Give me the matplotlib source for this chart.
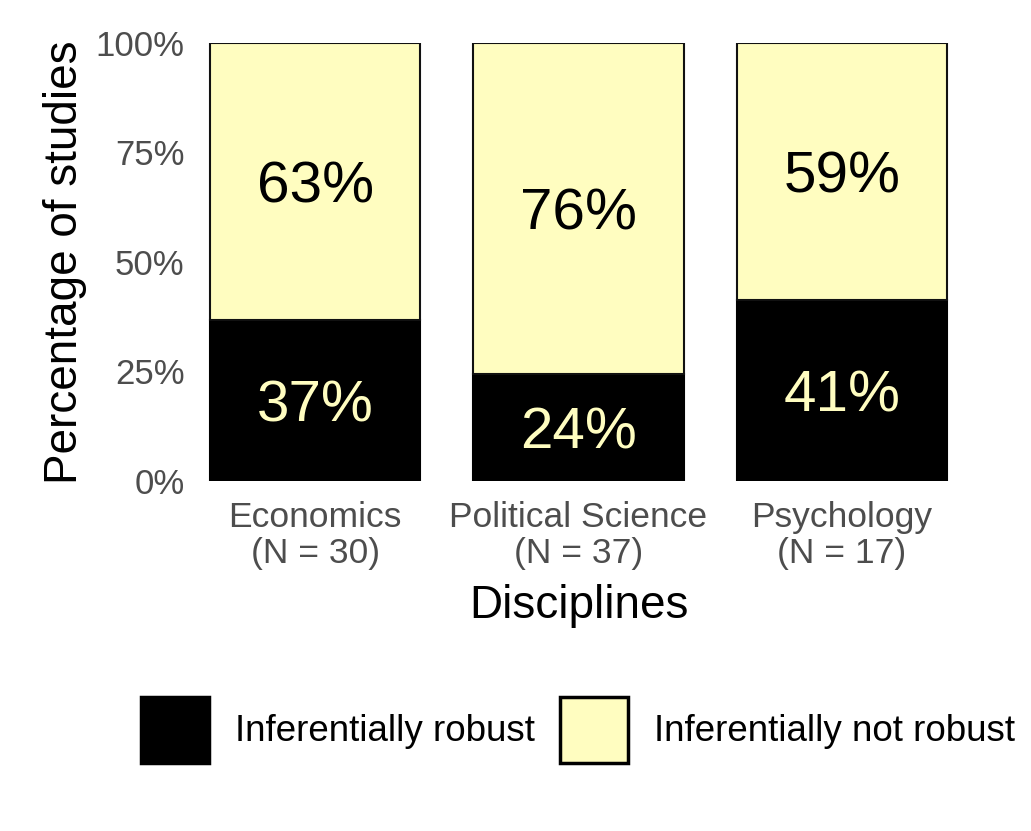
import matplotlib
matplotlib.use("Agg")
import matplotlib.pyplot as plt
import matplotlib.patches as mpatches

plt.rcParams['font.family'] = ['Liberation Sans', 'DejaVu Sans']

# Données
disciplines = ['Economics', 'Political Science', 'Psychology']
n_studies = [30, 37, 17]
n_robust = [11, 9, 7]
pct_robust = [100 * r / n for r, n in zip(n_robust, n_studies)]
pct_not_robust = [100 - p for p in pct_robust]
tick_labels = [f'{d}\n(N = {n})' for d, n in zip(disciplines, n_studies)]
y_ticks = [0, 25, 50, 75, 100]

col_robust = '#000000'
col_not = '#FFFDC0'

W, H = 1031, 831
fig = plt.figure(figsize=(W / 100, H / 100), dpi=100)
ax = fig.add_axes([190 / W, (H - 480.5) / H, (967 - 190) / W, 437.5 / H])

x = list(range(1, len(disciplines) + 1))
ax.bar(x, pct_robust, width=0.8, color=col_robust, edgecolor=col_robust, linewidth=1.5)
ax.bar(x, pct_not_robust, width=0.8, bottom=pct_robust, color=col_not,
       edgecolor='#111111', linewidth=1.5)

for xi, pr, pn in zip(x, pct_robust, pct_not_robust):
    ax.text(xi, pr / 2, f'{round(pr)}%', ha='center', va='center_baseline',
            fontsize=42, color=col_not)
    ax.text(xi, pr + pn / 2, f'{round(pn)}%', ha='center', va='center_baseline',
            fontsize=42, color='black')

ax.set_xlim(0.525, 3.475)
ax.set_ylim(0, 100)
ax.set_xticks(x)
ax.set_xticklabels(tick_labels, fontsize=25.5, color='#4D4D4D', linespacing=1.12)
ax.set_yticks(y_ticks)
ax.set_yticklabels([f'{t}%' for t in y_ticks], fontsize=25, color='#4D4D4D')
ax.tick_params(axis='both', length=0)
ax.tick_params(axis='y', pad=4)
ax.tick_params(axis='x', pad=15)
for s in ax.spines.values():
    s.set_visible(False)

ax.set_xlabel('Disciplines', fontsize=33, labelpad=10)
ax.set_ylabel('Percentage of studies', fontsize=33, labelpad=6)

handles = [
    mpatches.Patch(facecolor=col_robust, edgecolor='black', linewidth=2.5,
                   label='Inferentially robust'),
    mpatches.Patch(facecolor=col_not, edgecolor='black', linewidth=2.5,
                   label='Inferentially not robust'),
]
fig.legend(handles=handles, loc='center', bbox_to_anchor=(578 / W, (H - 730) / H),
           ncol=2, frameon=False, fontsize=26.5, handlelength=1.85, handleheight=2.42,
           handletextpad=0.72, columnspacing=0.66, borderpad=0)

fig.savefig('out.png', dpi=100)
